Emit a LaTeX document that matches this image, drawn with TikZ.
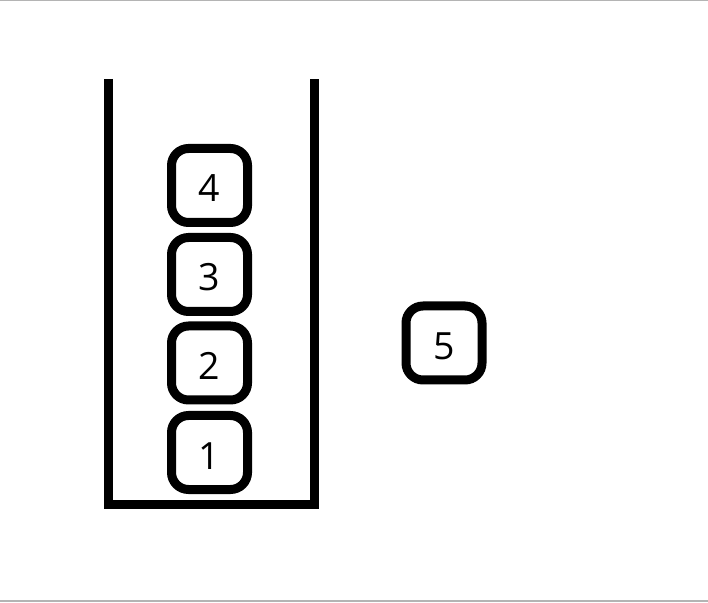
\documentclass[tikz,border=0pt]{standalone}
\usepackage{fontspec}
\setmainfont{Open Sans}
\begin{document}
\begin{tikzpicture}[x=1pt,y=1pt,
  item/.style={draw=black, line width=9pt, rounded corners=17pt, fill=white,
    minimum width=76pt, minimum height=74pt, inner sep=0pt,
    text height=33pt, text depth=0pt,
    font=\fontsize{37.5}{40}\selectfont},
  wall/.style={draw=black, line width=9pt, line join=miter},
  rule/.style={draw={rgb,255:red,180;green,180;blue,180}, line width=1.5pt}]
\useasboundingbox (0,0) rectangle (708,602);
\fill[white] (0,0) rectangle (708,602);
\draw[rule] (0,601.3) -- (708,601.3);
\draw[rule] (0,1.2) -- (708,1.2);
\coordinate (tl) at (108.5,523);
\coordinate (bl) at (108.5,98);
\coordinate (br) at (314,98);
\coordinate (tr) at (314,523);
\draw[wall] (tl) -- (bl) -- (br) -- (tr);
\node[item] (n4) at (209.5,416.5) {4};
\node[item] (n3) at (209.5,327.5) {3};
\node[item] (n2) at (209.5,239) {2};
\node[item] (n1) at (209.5,149.5) {1};
\node[item] (n5) at (444,259) {5};
\end{tikzpicture}
\end{document}
